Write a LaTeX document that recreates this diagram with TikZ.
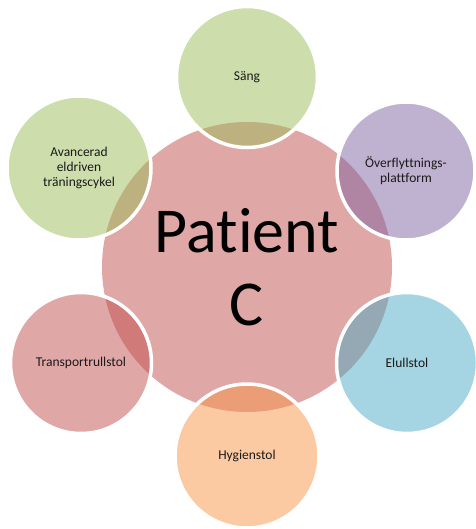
\documentclass[tikz,border=0pt]{standalone}
\usepackage{fontspec}
\setmainfont{Carlito}[Ligatures=NoCommon]
\usetikzlibrary{positioning}
\definecolor{ptred}{HTML}{C0504D}
\definecolor{ptgreen}{HTML}{9BBB59}
\definecolor{ptpurple}{HTML}{8064A2}
\definecolor{ptblue}{HTML}{4BACC6}
\definecolor{ptorange}{HTML}{F79646}
\definecolor{inktext}{HTML}{1A1A1A}

\begin{document}
\begin{tikzpicture}[
  x=1pt, y=-1pt,
  hub/.style={circle, fill=ptred, fill opacity=0.5, text opacity=1, minimum size=290pt,
    inner sep=0pt, align=center, font=\fontsize{64}{73}\selectfont},
  aid/.style={circle, draw=white, line width=3.5pt, fill opacity=0.5, draw opacity=1,
    text opacity=1, minimum size=141pt, inner sep=0pt, align=center, text=inktext,
    font=\fontsize{13.5}{15}\selectfont}
]
\useasboundingbox (0,0) rectangle (475,529);

\node[hub] (patient) at (247,267) {Patient\\C};

\node[aid, fill=ptgreen] (sang) at (247,77) {Säng};
\node[aid, fill=ptpurple, minimum size=138pt] (flytt) at (406,171) {Överflyttnings-\\plattform};
\node[aid, fill=ptblue] (elull) at (407,363) {Elullstol};
\node[aid, fill=ptorange, minimum size=144pt] (hygien) at (247,456) {Hygienstol};
\node[aid, fill=ptred] (transport) at (81,363) {Transportrullstol};
\node[aid, fill=ptgreen, minimum size=144pt] (cykel) at (79,168) {Avancerad\\eldriven\\träningscykel};

\end{tikzpicture}
\end{document}
